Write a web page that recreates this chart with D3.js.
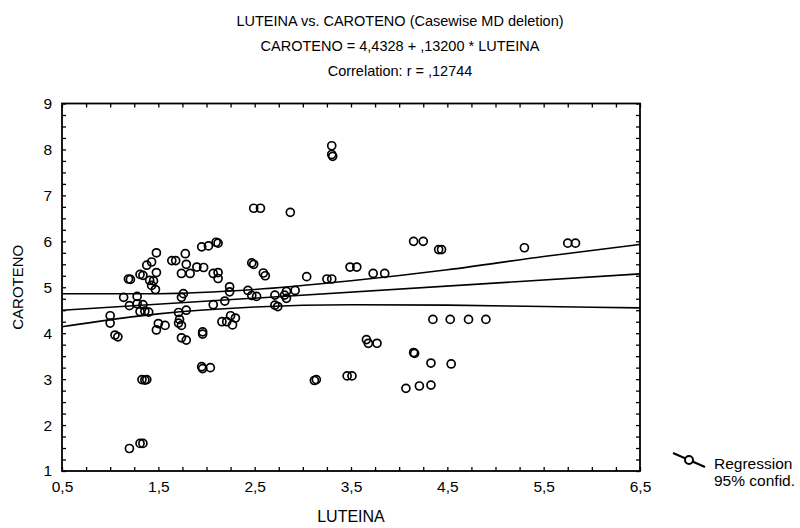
<!DOCTYPE html>
<html>
<head>
<meta charset="utf-8">
<script src="https://cdn.jsdelivr.net/npm/d3@7"></script>
<style>
  body { margin: 0; background: #fff; }
  text { font-family: "Liberation Sans", Arial, Helvetica, sans-serif; fill: #000; }
</style>
</head>
<body>
<svg id="chart" width="800" height="528"></svg>
<script>
// Observations (one entry per case)
const luteina = [
  3.30, 3.30, 3.31, 2.49, 2.56, 2.87, 2.10, 2.12, 1.95, 2.02,
  4.15, 4.25, 4.41, 4.44, 5.30, 5.75, 5.83, 1.48, 1.78, 1.64,
  1.68, 1.43, 1.38, 1.79, 1.90, 1.97, 2.47, 2.49, 3.49, 3.56,
  1.48, 1.31, 1.34, 1.19, 1.21, 1.41, 1.45, 1.74, 1.83, 2.07,
  2.12, 2.12, 2.59, 2.61, 3.04, 3.25, 3.30, 3.73, 3.85, 1.43,
  1.47, 2.24, 2.24, 2.43, 2.83, 2.92, 1.14, 1.28, 1.76, 1.74,
  2.19, 2.47, 2.52, 2.71, 2.81, 2.83, 1.20, 1.28, 1.34, 1.31,
  1.36, 1.40, 1.79, 1.71, 2.07, 2.71, 2.74, 1.00, 1.00, 1.72,
  1.71, 1.74, 1.50, 1.48, 1.57, 2.16, 2.21, 2.30, 2.27, 2.25,
  1.96, 1.96, 4.35, 4.53, 4.72, 4.90, 1.05, 1.08, 1.74, 1.79,
  3.66, 3.68, 3.77, 1.95, 1.96, 2.04, 4.15, 4.16, 4.33, 4.54,
  1.33, 1.36, 1.38, 3.12, 3.14, 3.46, 3.51, 4.07, 4.21, 4.33,
  1.20, 1.31, 1.34
];
const caroteno = [
  8.08, 7.89, 7.85, 6.72, 6.72, 6.63, 5.98, 5.96, 5.88, 5.90,
  6.00, 6.00, 5.82, 5.82, 5.86, 5.96, 5.96, 5.75, 5.73, 5.58,
  5.58, 5.55, 5.48, 5.50, 5.44, 5.43, 5.53, 5.50, 5.44, 5.44,
  5.32, 5.28, 5.26, 5.18, 5.17, 5.15, 5.14, 5.30, 5.30, 5.30,
  5.32, 5.19, 5.31, 5.25, 5.23, 5.18, 5.18, 5.30, 5.30, 5.04,
  4.95, 5.01, 4.90, 4.93, 4.91, 4.93, 4.78, 4.80, 4.86, 4.78,
  4.70, 4.82, 4.80, 4.83, 4.83, 4.76, 4.60, 4.64, 4.62, 4.47,
  4.48, 4.46, 4.50, 4.45, 4.62, 4.61, 4.58, 4.38, 4.22, 4.30,
  4.22, 4.17, 4.21, 4.07, 4.17, 4.25, 4.25, 4.33, 4.18, 4.38,
  4.03, 3.98, 4.30, 4.30, 4.30, 4.30, 3.96, 3.92, 3.90, 3.85,
  3.86, 3.78, 3.78, 3.27, 3.23, 3.25, 3.58, 3.56, 3.35, 3.33,
  2.99, 2.98, 2.99, 2.97, 2.99, 3.07, 3.07, 2.80, 2.85, 2.87,
  1.49, 1.60, 1.60
];

// Fitted line as stated in the header
const intercept = 4.4328;
const slope = 0.13200;

// 95% confidence limits of the fitted mean, at the major LUTEINA ticks
const bandX     = [0.5, 1.5, 2.5, 3.5, 4.5, 5.5, 6.5];
const bandUpper = [4.86, 4.86, 4.95, 5.14, 5.38, 5.67, 5.93];
const bandLower = [4.14, 4.42, 4.57, 4.62, 4.61, 4.58, 4.55];

const titleLines = [
  "LUTEINA vs. CAROTENO (Casewise MD deletion)",
  "CAROTENO = 4,4328 + ,13200 * LUTEINA",
  "Correlation: r = ,12744"
];
const xTickValues = [0.5, 1.5, 2.5, 3.5, 4.5, 5.5, 6.5];
const yTickValues = [1, 2, 3, 4, 5, 6, 7, 8, 9];
const xLabel = "LUTEINA";
const yLabel = "CAROTENO";
const legendLabels = ["Regression", "95% confid."];

const svg = d3.select("#chart");
const plot = { left: 62, right: 640, top: 103.5, bottom: 471 };

const x = d3.scaleLinear().domain([0.5, 6.5]).range([plot.left, plot.right]);
const y = d3.scaleLinear().domain([1, 9]).range([plot.bottom, plot.top]);

// Decimal comma number format
const locale = d3.formatLocale({ decimal: ",", thousands: ".", grouping: [3], currency: ["", ""] });
const fmtX = locale.format(".1f");
const fmtY = locale.format("d");

// Minor ticks every quarter unit on both axes
const xMinor = d3.range(0, 25).map(i => 0.5 + i * 0.25);
const yMinor = d3.range(0, 33).map(i => 1 + i * 0.25);
const isMajorX = v => xTickValues.some(t => Math.abs(t - v) < 1e-9);
const isMajorY = v => yTickValues.some(t => Math.abs(t - v) < 1e-9);

function styleAxis(g) {
  g.select(".domain").remove();
  g.selectAll(".tick line").attr("stroke", "#000").attr("stroke-width", 1.3);
  g.selectAll(".tick text").style("font-size", "15.5px").attr("fill", "#000");
}

svg.append("g")
  .attr("transform", `translate(0,${plot.bottom})`)
  .call(d3.axisBottom(x).tickValues(xMinor).tickSize(-4).tickPadding(10)
    .tickFormat(d => isMajorX(d) ? fmtX(d) : ""))
  .call(styleAxis);

svg.append("g")
  .attr("transform", `translate(${plot.left},0)`)
  .call(d3.axisLeft(y).tickValues(yMinor).tickSize(-4).tickPadding(10)
    .tickFormat(d => isMajorY(d) ? fmtY(d) : ""))
  .call(styleAxis);

svg.append("g")
  .attr("transform", `translate(0,${plot.top})`)
  .call(d3.axisTop(x).tickValues(xMinor).tickSize(-4).tickFormat(""))
  .call(styleAxis);

svg.append("g")
  .attr("transform", `translate(${plot.right},0)`)
  .call(d3.axisRight(y).tickValues(yMinor).tickSize(-4).tickFormat(""))
  .call(styleAxis);

// Plot frame
svg.append("rect")
  .attr("x", plot.left).attr("y", plot.top)
  .attr("width", plot.right - plot.left).attr("height", plot.bottom - plot.top)
  .attr("fill", "none").attr("stroke", "#000").attr("stroke-width", 1.8);

// Regression line and its confidence limits
const lines = svg.append("g").attr("fill", "none").attr("stroke", "#000").attr("stroke-width", 1.6);
lines.append("path")
  .attr("d", d3.line().x(v => x(v)).y(v => y(intercept + slope * v))(x.domain()));

const bandLine = d3.line().x(d => x(d[0])).y(d => y(d[1])).curve(d3.curveMonotoneX);
lines.append("path").attr("d", bandLine(bandX.map((v, i) => [v, bandUpper[i]])));
lines.append("path").attr("d", bandLine(bandX.map((v, i) => [v, bandLower[i]])));

// Scatter points
svg.append("g")
  .selectAll("circle")
  .data(luteina.map((v, i) => [v, caroteno[i]]))
  .join("circle")
  .attr("cx", d => x(d[0]))
  .attr("cy", d => y(d[1]))
  .attr("r", 4)
  .attr("fill", "none")
  .attr("stroke", "#000")
  .attr("stroke-width", 1.7);

// Titles
svg.append("g").selectAll("text")
  .data(titleLines)
  .join("text")
  .attr("x", 400)
  .attr("y", (d, i) => 26 + i * 25)
  .attr("text-anchor", "middle")
  .style("font-size", "14.5px")
  .text(d => d);

// Axis titles
svg.append("text")
  .attr("x", (plot.left + plot.right) / 2)
  .attr("y", 522)
  .attr("text-anchor", "middle")
  .style("font-size", "16px")
  .text(xLabel);

svg.append("text")
  .attr("transform", `translate(23,${(plot.top + plot.bottom) / 2}) rotate(-90)`)
  .attr("text-anchor", "middle")
  .style("font-size", "15px")
  .text(yLabel);

// Legend
const legend = svg.append("g");
legend.append("line")
  .attr("x1", 673).attr("y1", 453).attr("x2", 705).attr("y2", 467)
  .attr("stroke", "#000").attr("stroke-width", 2);
legend.append("circle")
  .attr("cx", 689).attr("cy", 460).attr("r", 4)
  .attr("fill", "#fff").attr("stroke", "#000").attr("stroke-width", 2);
legend.selectAll("text.leg")
  .data(legendLabels)
  .join("text")
  .attr("class", "leg")
  .attr("x", 714)
  .attr("y", (d, i) => 469 + i * 17)
  .style("font-size", "15.5px")
  .text(d => d);
</script>
</body>
</html>
